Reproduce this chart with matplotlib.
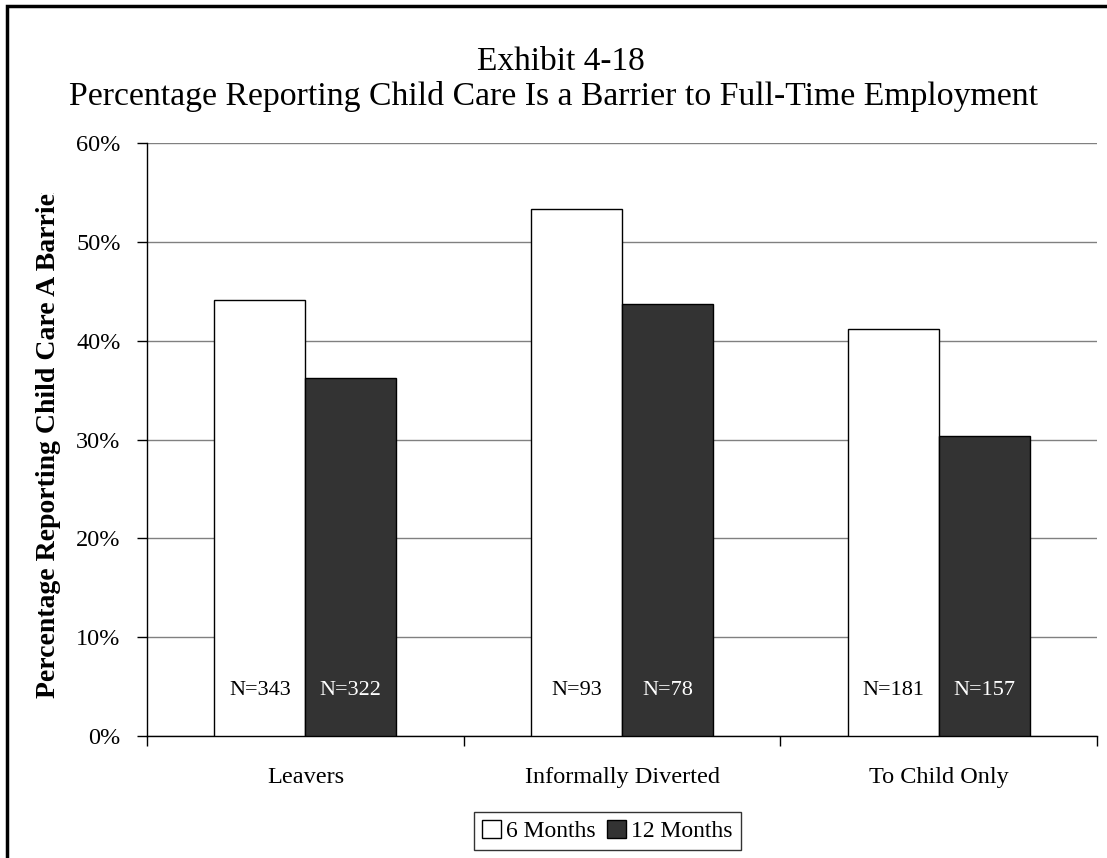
import matplotlib
matplotlib.use("Agg")
import matplotlib.pyplot as plt
import matplotlib.patches as mpatches
from matplotlib.transforms import Bbox, TransformedBbox
import numpy as np

# ─── Data ────────────────────────────────────────────────────────────────────
categories = ["Leavers", "Informally Diverted", "To Child Only"]
series_names = ["6 Months", "12 Months"]
six_months = [44.1, 53.3, 41.2]
twelve_months = [36.2, 43.7, 30.4]
n_six = ["N=343", "N=93", "N=181"]
n_twelve = ["N=322", "N=78", "N=157"]
yticks = [0, 10, 20, 30, 40, 50, 60]

plt.rcParams["font.family"] = ["Liberation Serif", "DejaVu Serif"]

fig = plt.figure(figsize=(11.07, 8.58), dpi=100)
ax = fig.add_axes([0.1328, 0.1422, 0.8582, 0.6911])

x = np.arange(len(categories))
w = 0.287
ax.bar(x - w / 2, six_months, w, color="white", edgecolor="black", linewidth=1, zorder=3)
ax.bar(x + w / 2, twelve_months, w, color="#333333", edgecolor="black", linewidth=1, zorder=3)

# N labels inside bars
for i in range(len(categories)):
    ax.text(x[i] - w / 2, 4.6, n_six[i], ha="center", va="center", fontsize=16, color="black", zorder=4)
    ax.text(x[i] + w / 2, 4.6, n_twelve[i], ha="center", va="center", fontsize=16, color="white", zorder=4)

ax.set_xlim(-0.5, len(categories) - 0.5)
ax.set_ylim(0, 60)
ax.set_yticks(yticks)
ax.set_yticklabels([f"{t}%" for t in yticks], fontsize=17.5)
ax.yaxis.grid(True, color="#808080", linewidth=1, zorder=0)

# category labels between boundary ticks
ax.set_xticks(np.arange(-0.5, len(categories), 1.0))
ax.set_xticklabels([])
ax.set_xticks(x, minor=True)
ax.set_xticklabels(categories, minor=True, fontsize=17.5)
ax.tick_params(axis="x", which="major", direction="out", length=7, width=1)
ax.tick_params(axis="x", which="minor", length=0, pad=22)
ax.tick_params(axis="y", direction="out", length=7, width=1, pad=12)

for side in ["top", "right"]:
    ax.spines[side].set_visible(False)
ax.spines["left"].set_linewidth(1)
ax.spines["bottom"].set_linewidth(1)

# y label is cut off at the top in the original
ylab = ax.set_ylabel("Percentage Reporting Child Care A Barrier", fontsize=20, fontweight="bold", labelpad=11)
ylab.set_clip_on(True)
ylab.set_clip_box(TransformedBbox(Bbox([[0, 0], [1, 1 - 193 / 858]]), fig.transFigure))

fig.text(0.507, 1 - 62 / 858, "Exhibit 4-18", ha="center", va="center", fontsize=24)
fig.text(0.500, 1 - 96 / 858, "Percentage Reporting Child Care Is a Barrier to Full-Time Employment",
         ha="center", va="center", fontsize=24.3)

handles = [
    mpatches.Patch(facecolor="white", edgecolor="black", linewidth=1, label=series_names[0]),
    mpatches.Patch(facecolor="#333333", edgecolor="black", linewidth=1, label=series_names[1]),
]
leg = fig.legend(handles=handles, loc="center", bbox_to_anchor=(0.5488, 1 - 831 / 858), ncol=2,
                 fontsize=17, frameon=True, fancybox=False, edgecolor="black",
                 handlelength=0.8, handleheight=0.8, handletextpad=0.2, columnspacing=0.5,
                 borderpad=0.35, borderaxespad=0.2)
leg.get_frame().set_linewidth(1)

# outer chart border (left/top visible)
fig.patches.append(mpatches.Rectangle((7 / 1107, -0.05), 1.1, 1 - 6 / 858 + 0.05,
                                      transform=fig.transFigure, fill=False,
                                      edgecolor="black", linewidth=2.5, clip_on=False))

fig.savefig("out.png", dpi=100)
